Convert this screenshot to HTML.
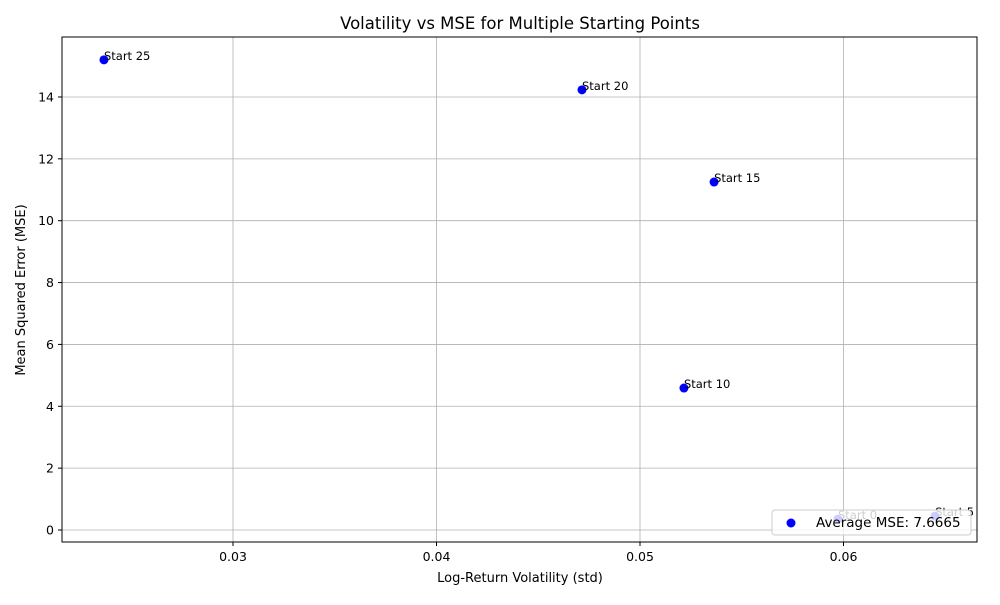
<!DOCTYPE html>
<html><head><meta charset="utf-8"><style>
body{margin:0;background:#fff;font-family:"Liberation Sans","DejaVu Sans",sans-serif}
</style></head><body>
<svg width="1000" height="600" id="svg" font-family="DejaVu Sans, Liberation Sans, sans-serif">
<text x="520" y="29" text-anchor="middle" font-size="16.5">Volatility vs MSE for Multiple Starting Points</text>
<g id="grid"></g><g id="ticks"></g><g id="pts"></g>
<rect x="62" y="37" width="915" height="505" fill="none" stroke="#000" stroke-width="1"/>
<text x="520" y="582" text-anchor="middle" font-size="13">Log-Return Volatility (std)</text>
<text transform="translate(25,290) rotate(-90)" text-anchor="middle" font-size="13">Mean Squared Error (MSE)</text>
<g>
<rect x="772" y="510" width="199" height="25" rx="3" fill="#fff" fill-opacity="0.8" stroke="#ccc"/>
<circle cx="791" cy="523" r="4.5" fill="#0000ff"/>
<text x="816" y="527" font-size="13.5">Average MSE: 7.6665</text>
</g>
</svg>
<script>
const labels=["Start 0","Start 5","Start 10","Start 15","Start 20","Start 25"];
const vol=[0.05973,0.0645,0.05216,0.05364,0.04715,0.02366];
const mse=[0.35,0.45,4.59,11.25,14.23,15.20];
const xTicks=[0.03,0.04,0.05,0.06];
const yTicks=[0,2,4,6,8,10,12,14];
const NS="http://www.w3.org/2000/svg";
const X=v=>233+(v-0.03)*20350;
const Y=v=>530-v*30.93;
function mk(t,a,p){const e=document.createElementNS(NS,t);for(const k in a)e.setAttribute(k,a[k]);p.appendChild(e);return e;}
const grid=document.getElementById('grid'),ticks=document.getElementById('ticks'),pts=document.getElementById('pts');
xTicks.forEach(t=>{const x=X(t);
const g=mk('line',{x1:x,x2:x,y1:37,y2:542,stroke:'#b0b0b0','stroke-width':0.8},grid);


const tk=mk('line',{x1:x,x2:x,y1:542,y2:546,stroke:'#000'},ticks);


const l=mk('text',{x:x,y:561,'text-anchor':'middle','font-size':12.5},ticks);l.textContent=t.toFixed(2);

});
yTicks.forEach(t=>{const y=Y(t);
const g=mk('line',{x1:62,x2:977,y1:y,y2:y,stroke:'#b0b0b0','stroke-width':0.8},grid);


const tk=mk('line',{x1:58,x2:62,y1:y,y2:y,stroke:'#000'},ticks);


const l=mk('text',{x:54,y:y+4.5,'text-anchor':'end','font-size':12.5},ticks);l.textContent=t;

});
labels.forEach((s,i)=>{const x=X(vol[i]),y=Y(mse[i]);
const c=mk('circle',{cx:x,cy:y,r:4.5,fill:'#0000ff'},pts);


const t=mk('text',{x:x,y:y,'font-size':11.5},pts);t.textContent=s;

});
</script>
</body></html>
